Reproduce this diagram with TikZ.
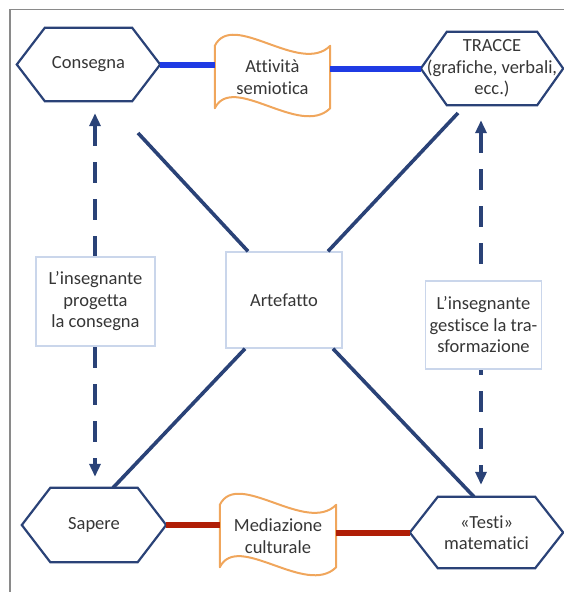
\documentclass[tikz,border=0pt]{standalone}
\usepackage{fontspec}
\setmainfont{Carlito}[Ligatures=NoCommon]
\usetikzlibrary{arrows.meta}

\definecolor{navy}{HTML}{2A4277}
\definecolor{linkblue}{HTML}{1F3BE4}
\definecolor{linkred}{HTML}{B01E06}
\definecolor{tapeorange}{HTML}{F0A65C}
\definecolor{boxblue}{HTML}{CAD6EB}
\definecolor{txtgray}{HTML}{363636}
\definecolor{framegray}{HTML}{8A8A8A}

\begin{document}
\begin{tikzpicture}[x=1pt, y=-1pt,
    every node/.style={font=\fontsize{18.5}{21.5}\selectfont, text=txtgray, align=center, inner sep=0pt},
    hexa/.style={minimum width=#1},
    hexline/.style={draw=navy, line width=2.2pt, line join=miter},
    wave/.style={minimum width=115pt, minimum height=62pt},
    waveline/.style={draw=tapeorange, line width=2pt, line join=round},
    plainbox/.style={draw=boxblue, line width=1.4pt, fill=white},
    diag/.style={draw=navy, line width=3.6pt},
    dasharrow/.style={draw=navy, line width=3.6pt, dash pattern=on 21pt off 16pt,
        {Triangle[length=13pt,width=11pt]}-{Triangle[length=13pt,width=11pt]}},
    bluelink/.style={draw=linkblue, line width=6pt},
    redlink/.style={draw=linkred, line width=6pt}]
    \useasboundingbox (0,0) rectangle (564,592);
    \draw [framegray, line width=1.5pt] (10,592) -- (10,9.5) -- (564,9.5);
    % hexagons: text node first, outline drawn round it
    \node [hexa=143pt, minimum height=73pt] (cons) at (88.5,64.5) {Consegna};
    \node [hexa=142pt, minimum height=73pt] (tracce) at (492,68.5) {TRACCE\\(grafiche, verbali,\\ecc.)};
    \node [hexa=144pt, minimum height=74pt] (sapere) at (94,525) {Sapere};
    \node [hexa=153pt, minimum height=71pt] (testi) at (486.5,532.5) {«Testi»\\matematici};
    \foreach \n/\s in {cons/28, tracce/26, sapere/28.5, testi/28} {
        \draw [hexline] (\n.west) -- ([xshift=\s pt]\n.north west) -- ([xshift=-\s pt]\n.north east)
            -- (\n.east) -- ([xshift=-\s pt]\n.south east) -- ([xshift=\s pt]\n.south west) -- cycle;
    }
    % wavy banners
    \node [wave] (att) at (272.5,77) {Attività\\semiotica};
    \node [wave, minimum width=116pt] (med) at (278,536) {Mediazione\\culturale};
    \foreach \n in {att, med} {
        \draw [waveline] (\n.north west) .. controls +(18,-36) and +(-30,30) .. (\n.north east)
            -- (\n.south east) .. controls +(-30,30) and +(18,-36) .. (\n.south west) -- cycle;
    }
    \node [plainbox, minimum width=116pt, minimum height=96pt] (art) at (284,300) {Artefatto};
    % links
    \draw [bluelink] (cons.east) -- (cons.east -| att.west);
    \draw [bluelink] (tracce.west) -- (tracce.west -| att.east);
    \draw [redlink] (sapere.east) -- (sapere.east -| med.west);
    \draw [redlink] (testi.west) -- (testi.west -| med.east);
    \coordinate (ulfree) at (138,133);
    \coordinate (urfree) at (458,113);
    \draw [diag] (ulfree) -- ([xshift=-36pt]art.north);
    \draw [diag] (urfree) -- ([xshift=44pt]art.north);
    \draw [diag] ([xshift=19pt]sapere.north) -- ([xshift=-39pt]art.south);
    \draw [diag] ([xshift=-12.5pt]testi.north) -- ([xshift=49pt]art.south);
    \draw [dasharrow, shorten <=12pt, shorten >=11pt] ([xshift=6.5pt]cons.south) -- ([xshift=6.5pt]cons.south |- sapere.north);
    \draw [dasharrow, shorten <=15pt, shorten >=12pt] ([xshift=-11pt]tracce.south) -- ([xshift=-11pt]tracce.south |- testi.north);
    \node [plainbox, minimum width=119pt, minimum height=89pt] (prog) at (95.5,301.5) {L’insegnante\\progetta\\la consegna};
    \node [plainbox, minimum width=116pt, minimum height=88pt] (gest) at (483.5,325) {L’insegnante\\gestisce la tra-\\sformazione};
\end{tikzpicture}
\end{document}
